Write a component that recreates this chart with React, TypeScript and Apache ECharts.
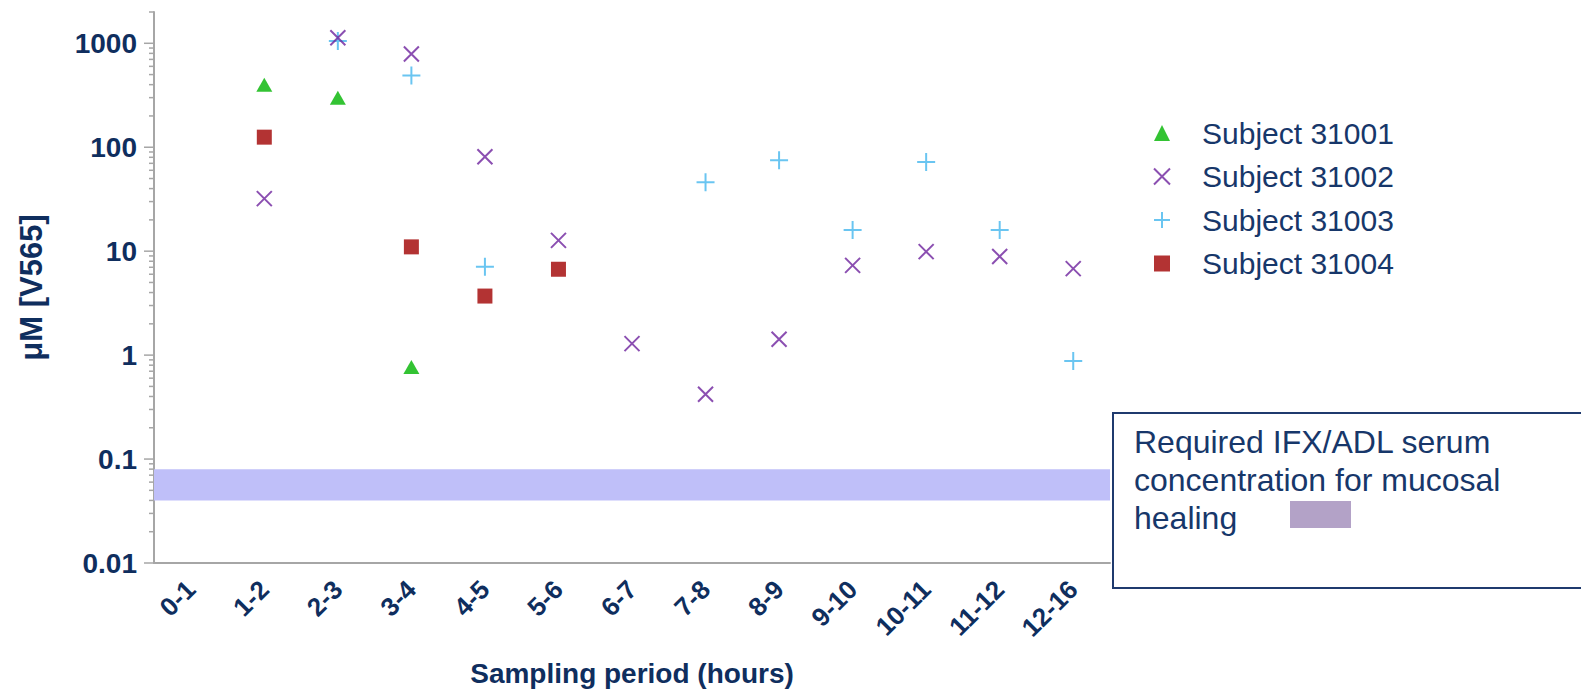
import React, { useEffect, useRef } from "react";
import * as echarts from "echarts";

const categories = ["0-1", "1-2", "2-3", "3-4", "4-5", "5-6", "6-7", "7-8", "8-9", "9-10", "10-11", "11-12", "12-16"];

const subject31001 = [null, 400, 300, 0.77, null, null, null, null, null, null, null, null, null];
const subject31002 = [null, 32, 1130, 790, 81, 12.7, 1.29, 0.42, 1.42, 7.3, 9.9, 8.9, 6.8];
const subject31003 = [null, null, 1050, 490, 7.1, null, null, 46, 75, 16, 72, 16, 0.88];
const subject31004 = [null, 125, null, 11, 3.7, 6.7, null, null, null, null, null, null, null];

const seriesNames = ["Subject 31001", "Subject 31002", "Subject 31003", "Subject 31004"];
const seriesColors = ["#00b400", "#6e239e", "#45b6ee", "#a00000"];

const yMin = 0.01;
const yMax = 2000;
const majorTicks = [0.01, 0.1, 1, 10, 100, 1000];
const minorTicks = [
  0.02, 0.03, 0.04, 0.05, 0.06, 0.07, 0.08, 0.09,
  0.2, 0.3, 0.4, 0.5, 0.6, 0.7, 0.8, 0.9,
  2, 3, 4, 5, 6, 7, 8, 9,
  20, 30, 40, 50, 60, 70, 80, 90,
  200, 300, 400, 500, 600, 700, 800, 900,
  2000,
];
const bandRange = [0.04, 0.08];

const boxText = "Required IFX/ADL serum\nconcentration for mucosal\nhealing";

const NAVY = "#0f2e5e";
const AXIS_GRAY = "#a6a6a6";
const FONT = "'Liberation Sans', Arial, sans-serif";

const X_PATH = "path://M0,0L10,10M10,0L0,10";
const PLUS_PATH = "path://M0,5L10,5M5,0L5,10";

export default function App() {
  const ref = useRef<HTMLDivElement>(null);

  useEffect(() => {
    if (!ref.current) return;
    const chart = echarts.init(ref.current, null, { renderer: "svg" });

    const isPow10 = (v: number) => {
      const l = Math.log10(v);
      return Math.abs(l - Math.round(l)) < 1e-6;
    };

    const tickData = [
      ...majorTicks.map((v) => [0, v, 1]),
      ...minorTicks.map((v) => [0, v, 0]),
    ];

    const option: any = {
      animation: false,
      textStyle: { fontFamily: FONT },
      grid: { left: 154, right: 471, top: 12, bottom: 131, outerBoundsMode: "none" },
      xAxis: {
        type: "category",
        data: categories,
        name: "Sampling period (hours)",
        nameLocation: "middle",
        nameGap: 96,
        nameTextStyle: { fontSize: 28, fontWeight: "bold", color: NAVY, fontFamily: FONT },
        axisLine: { lineStyle: { color: AXIS_GRAY, width: 2 } },
        axisTick: { alignWithLabel: true, length: 10, lineStyle: { color: AXIS_GRAY, width: 2 } },
        axisLabel: { rotate: 45, fontSize: 26, fontWeight: "bold", color: NAVY, margin: 22, interval: 0, fontFamily: FONT },
        splitLine: { show: false },
      },
      yAxis: {
        type: "log",
        logBase: 10,
        min: yMin,
        max: yMax,
        name: "\u03bcM [V565]",
        nameLocation: "middle",
        nameGap: 107,
        nameTextStyle: { fontSize: 31, fontWeight: "bold", color: NAVY, fontFamily: FONT },
        axisLine: { show: true, lineStyle: { color: AXIS_GRAY, width: 2 } },
        axisTick: { show: false },
        axisLabel: {
          fontSize: 28,
          fontWeight: "bold",
          color: NAVY,
          margin: 17,
          fontFamily: FONT,
          formatter: (v: number) => (isPow10(v) ? String(v) : ""),
        },
        splitLine: { show: false },
      },
      legend: {
        orient: "vertical",
        left: 1148,
        top: 113,
        itemWidth: 16,
        itemHeight: 16,
        itemGap: 13.5,
        textStyle: { fontSize: 30, color: "#17376a", fontFamily: FONT, lineHeight: 30, padding: [0, 0, 0, 27] },
        data: [
          { name: seriesNames[0], icon: "triangle", itemStyle: { color: seriesColors[0] } },
          { name: seriesNames[1], icon: X_PATH, itemStyle: { color: seriesColors[1], borderColor: seriesColors[1], borderWidth: 2 } },
          { name: seriesNames[2], icon: PLUS_PATH, itemStyle: { color: seriesColors[2], borderColor: seriesColors[2], borderWidth: 2 } },
          { name: seriesNames[3], icon: "rect", itemStyle: { color: seriesColors[3] } },
        ],
        selectedMode: false,
      },
      series: [
        {
          type: "custom",
          name: "ticks",
          silent: true,
          clip: false,
          z: 5,
          data: tickData,
          renderItem: (params: any, api: any) => {
            const v = api.value(1);
            const y = api.coord([0, v])[1];
            const x0 = params.coordSys.x;
            const len = api.value(2) ? 10 : 5;
            return {
              type: "line",
              shape: { x1: x0 - len, y1: y, x2: x0, y2: y },
              style: { stroke: AXIS_GRAY, lineWidth: 1.5 },
            };
          },
          markArea: {
            silent: true,
            itemStyle: { color: "#bfbff9" },
            data: [[{ yAxis: bandRange[0] }, { yAxis: bandRange[1] }]],
          },
        },
        {
          type: "scatter",
          name: seriesNames[0],
          data: subject31001,
          symbol: "triangle",
          symbolSize: [16, 14],
          itemStyle: { color: seriesColors[0] },
          z: 3,
        },
        {
          type: "scatter",
          name: seriesNames[3],
          data: subject31004,
          symbol: "rect",
          symbolSize: 15,
          itemStyle: { color: seriesColors[3] },
          z: 3,
        },
        {
          type: "scatter",
          name: seriesNames[2],
          data: subject31003,
          symbol: PLUS_PATH,
          symbolSize: 18,
          itemStyle: { color: seriesColors[2], borderColor: seriesColors[2], borderWidth: 2 },
          z: 3,
        },
        {
          type: "scatter",
          name: seriesNames[1],
          data: subject31002,
          symbol: X_PATH,
          symbolSize: 15,
          itemStyle: { color: seriesColors[1], borderColor: seriesColors[1], borderWidth: 2 },
          z: 4,
        },
      ],
      graphic: [
        {
          type: "rect",
          z: 100,
          shape: { x: 1113, y: 413, width: 500, height: 175 },
          style: { fill: "#ffffff", stroke: "#1f3a6e", lineWidth: 2 },
        },
        {
          type: "text",
          z: 101,
          x: 1134,
          y: 423,
          style: { text: boxText, font: `32px ${FONT}`, fill: "#17376a", lineHeight: 38 },
        },
        {
          type: "rect",
          z: 101,
          shape: { x: 1290, y: 501, width: 61, height: 27 },
          style: { fill: "#b3a2c7" },
        },
      ],
    };

    chart.setOption(option);
    return () => chart.dispose();
  }, []);

  return <div ref={ref} style={{ position: "absolute", left: 0, top: 0, width: 1581, height: 694 }} />;
}
